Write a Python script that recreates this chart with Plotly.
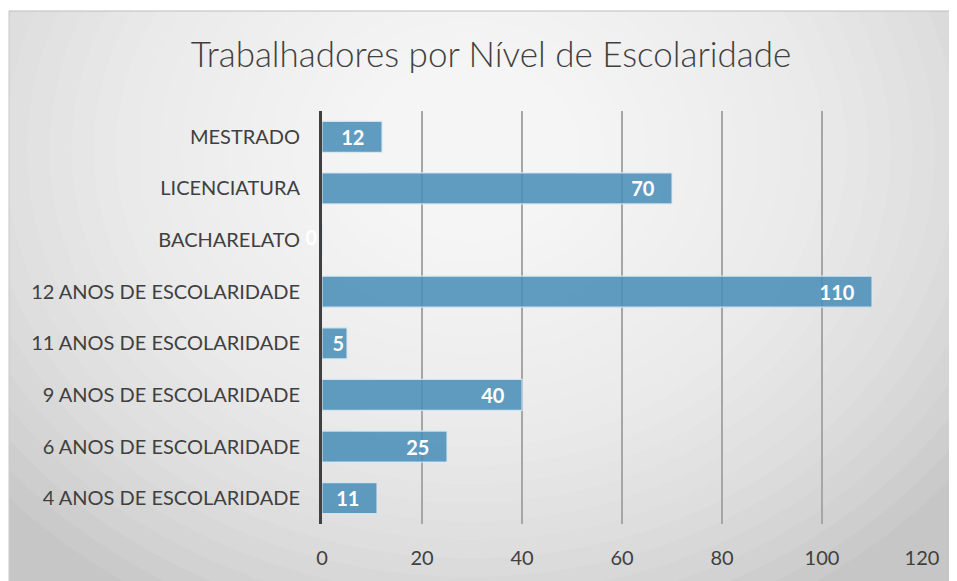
import plotly.graph_objects as go

categories = ["4 ANOS DE ESCOLARIDADE", "6 ANOS DE ESCOLARIDADE", "9 ANOS DE ESCOLARIDADE",
              "11 ANOS DE ESCOLARIDADE", "12 ANOS DE ESCOLARIDADE", "BACHARELATO",
              "LICENCIATURA", "MESTRADO"]
values = [11, 25, 40, 5, 110, 0, 70, 12]
x_ticks = [0, 20, 40, 60, 80, 100, 120]
title_text = "Trabalhadores por Nível de Escolaridade"

OFF = 8  # page body margin
W, H = 957 - OFF, 581 - OFF
L, R, T, B = 322 - OFF, 35, 111 - OFF, 57
pw, ph = W - L - R, H - T - B

def px_x(px):  # page pixel -> paper
    return (px - OFF - L) / pw

def px_y(py):
    return (H - B - (py - OFF)) / ph

NB = "\u00a0"
labels = [(f"{v}" + NB * 3) if v >= 10 else f"{v}" for v in values]
FONT = "Lato"

fig = go.Figure()
fig.add_trace(go.Bar(
    y=categories, x=values, orientation="h",
    marker=dict(color="rgba(74,143,184,0.87)", line=dict(color="rgba(215,232,243,0.9)", width=1.2)),
    text=[t if v > 0 else "" for t, v in zip(labels, values)],
    textposition="inside", insidetextanchor="end", textangle=0,
    textfont=dict(color="white", size=20, family=FONT, weight="bold"),
    constraintext="none", width=0.6, hoverinfo="skip",
))
zero_cats = [c for c, v in zip(categories, values) if v == 0]
zero_vals = [v for v in values if v == 0]
fig.add_trace(go.Scatter(
    y=zero_cats, x=zero_vals, mode="text", text=[str(v) + NB for v in zero_vals],
    textposition="middle left", textfont=dict(color="white", size=20, family=FONT, weight="bold"),
    hoverinfo="skip", cliponaxis=False,
))

shapes = []
shapes.append(dict(type="rect", xref="paper", yref="paper",
                   x0=px_x(9), x1=px_x(960), y0=px_y(585), y1=px_y(11),
                   fillcolor="#c6c6c6", line=dict(width=0), layer="below"))
cx, cy = 470, 150
N = 28
for i in range(N):
    f = 1 - i / N
    rx, ry = 620 * f, 520 * f
    shapes.append(dict(type="circle", xref="paper", yref="paper",
                       x0=px_x(cx - rx), x1=px_x(cx + rx), y0=px_y(cy + ry), y1=px_y(cy - ry),
                       fillcolor="rgba(255,255,255,0.085)", line=dict(width=0), layer="below"))
shapes.append(dict(type="rect", xref="paper", yref="paper",
                   x0=px_x(-50), x1=px_x(9), y0=px_y(700), y1=px_y(-50),
                   fillcolor="white", line=dict(width=0), layer="below"))
shapes.append(dict(type="rect", xref="paper", yref="paper",
                   x0=px_x(-50), x1=px_x(1100), y0=px_y(10.5), y1=px_y(-50),
                   fillcolor="white", line=dict(width=0), layer="below"))
shapes.append(dict(type="line", xref="paper", yref="paper",
                   x0=px_x(9), x1=px_x(960), y0=px_y(11), y1=px_y(11),
                   line=dict(color="#bdbdbd", width=1), layer="below"))
shapes.append(dict(type="line", xref="paper", yref="paper",
                   x0=px_x(9), x1=px_x(9), y0=px_y(585), y1=px_y(11),
                   line=dict(color="#c8c8c8", width=1), layer="below"))

fig.update_layout(
    width=W, height=H,
    margin=dict(l=L, r=R, t=T, b=B, pad=0),
    paper_bgcolor="white", plot_bgcolor="rgba(0,0,0,0)",
    showlegend=False,
    shapes=shapes,
    title=dict(text=title_text, x=(491 - OFF) / W, xanchor="center",
               y=1 - (55 - OFF) / H, yanchor="middle",
               font=dict(family=FONT, size=35, color="#404040", weight=300)),
    xaxis=dict(range=[0, 120], tickvals=x_ticks, showgrid=True, gridcolor="#a6a6a6", gridwidth=1.5,
               zeroline=False, showline=False, ticks="", ticklabelstandoff=20,
               tickfont=dict(family=FONT, size=20, color="#404040"), fixedrange=True),
    yaxis=dict(categoryorder="array", categoryarray=categories, showgrid=False,
               showline=True, linecolor="#404040", linewidth=3, ticks="",
               ticklabelstandoff=15,
               tickfont=dict(family=FONT, size=20, color="#404040"), fixedrange=True),
    bargap=0.4,
)
fig.write_html("out.html")
